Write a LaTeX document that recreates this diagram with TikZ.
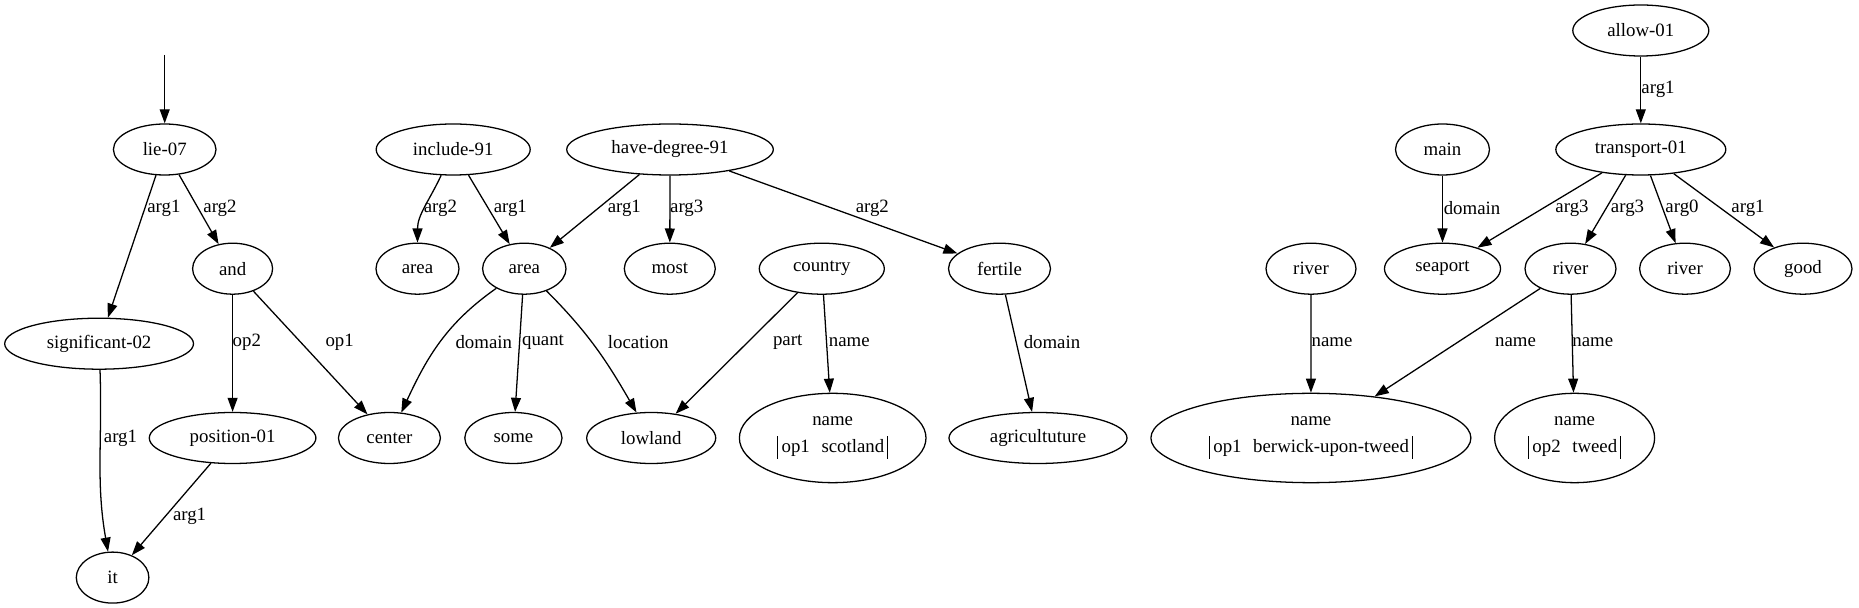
\documentclass[tikz,border=0pt]{standalone}
\usepackage{fontspec}
\setmainfont{Liberation Serif}
\usetikzlibrary{shapes.geometric,arrows.meta}
\newcommand\oprow[2]{\setlength\arrayrulewidth{0.7pt}\begin{tabular}{|@{\hspace{2.3pt}}l@{\hspace{8.2pt}}l@{\hspace{2.3pt}}|}#1&#2\end{tabular}}
\begin{document}
\begin{tikzpicture}[x=0.704pt,y=0.704pt,
 every node/.style={font=\fontsize{13.25pt}{16pt}\selectfont},
 nd/.style={ellipse,draw,line width=0.9pt,inner sep=0pt,minimum height=35.9pt,minimum width=#1*1.408pt},
 nm/.style={ellipse,draw,line width=0.9pt,inner sep=0pt,minimum height=62.9pt,minimum width=#1*1.408pt,align=center},
 edge/.style={draw,line width=0.9pt,-{Triangle[length=9.9pt,width=7pt]}},
 lbl/.style={inner sep=0pt}]
\useasboundingbox (0,0) rectangle (1859,608);
% row 0
\node[nd=68] (allow) at (1640.8,577.5) {allow-01};
\coordinate (start) at (164.7,553);
% row 1
\node[nd=51.3] (lie) at (164.7,458.5) {lie-07};
\node[nd=77] (inc) at (453.2,458.5) {include-91};
\node[nd=103.3] (hd) at (670,458.5) {have-degree-91};
\node[nd=47] (main) at (1442.5,458.5) {main};
\node[nd=85] (tr) at (1640.8,458.5) {transport-01};
% row 2
\node[nd=40] (and) at (232.6,339.3) {and};
\node[nd=41.5] (areaS) at (417.5,339.3) {area};
\node[nd=41.7] (areaB) at (524.3,339.3) {area};
\node[nd=45.5] (most) at (669.8,339.3) {most};
\node[nd=62.5] (country) at (821.8,339.3) {country};
\node[nd=51] (fertile) at (999.5,339.3) {fertile};
\node[nd=45] (riverL) at (1311,339.3) {river};
\node[nd=58] (seaport) at (1442.5,339.3) {seaport};
\node[nd=45.5] (riverM) at (1570.5,339.3) {river};
\node[nd=45.4] (riverR) at (1685,339.3) {river};
\node[nd=49] (good) at (1803,339.3) {good};
% row 3
\node[nd=94.4] (sig) at (99.1,264.3) {significant-02};
% row 4
\node[nd=83.3] (pos) at (232.6,170) {position-01};
\node[nd=51] (center) at (389.4,170) {center};
\node[nd=48.6] (some) at (513.4,170) {some};
\node[nd=64.5] (lowland) at (651.2,170) {lowland};
\node[nm=93.3] (scot) at (832.7,170) {name\\[2.8pt]\oprow{op1}{scotland}};
\node[nd=89] (agri) at (1038,170) {agricultuture};
\node[nm=160] (berw) at (1310.9,170) {name\\[2.8pt]\oprow{op1}{berwick-upon-tweed}};
\node[nm=80] (tweed) at (1574.6,170) {name\\[2.8pt]\oprow{op2}{tweed}};
% row 5
\node[nd=36.3] (it) at (112.6,30.4) {it};
% edges
\draw[edge] (start) -- (lie);
\draw[edge] (lie) -- (sig) node[lbl,at={(163.9,399.7)}] {arg1};
\draw[edge] (lie) -- (and) node[lbl,at={(220,399.7)}] {arg2};
\draw[edge] (and) -- (pos) node[lbl,at={(246.8,265.5)}] {op2};
\draw[edge] (and) -- (center) node[lbl,at={(339.7,265.5)}] {op1};
\draw[edge] (sig) to[out=-88,in=100] (it) node[lbl,at={(120.5,170)}] {arg1};
\draw[edge] (pos) -- (it) node[lbl,at={(189.6,91.5)}] {arg1};
\draw[edge] (inc) to[out=245,in=90] (areaS) node[lbl,at={(440.4,399.7)}] {arg2};
\draw[edge] (inc) -- (areaB) node[lbl,at={(510.3,399.7)}] {arg1};
\draw[edge] (hd) -- (areaB) node[lbl,at={(624.3,399.7)}] {arg1};
\draw[edge] (hd) -- (most) node[lbl,at={(686.7,399.7)}] {arg3};
\draw[edge] (hd) -- (fertile) node[lbl,at={(872.3,399.7)}] {arg2};
\draw[edge] (areaB) to[out=215,in=65] (center) node[lbl,at={(483.8,265.5)}] {domain};
\draw[edge] (areaB) -- (some) node[lbl,at={(543,265.5)}] {quant};
\draw[edge] (areaB) to[out=-45,in=120] (lowland) node[lbl,at={(638.3,265.5)}] {location};
\draw[edge] (country) -- (lowland) node[lbl,at={(787.7,265.5)}] {part};
\draw[edge] (country) -- (scot) node[lbl,at={(849.3,265.5)}] {name};
\draw[edge] (fertile) -- (agri) node[lbl,at={(1052,265.5)}] {domain};
\draw[edge] (allow) -- (tr) node[lbl,at={(1658,518.7)}] {arg1};
\draw[edge] (main) -- (seaport) node[lbl,at={(1472,399.7)}] {domain};
\draw[edge] (tr) -- (seaport) node[lbl,at={(1572,399.7)}] {arg3};
\draw[edge] (tr) -- (riverM) node[lbl,at={(1627.5,399.7)}] {arg3};
\draw[edge] (tr) -- (riverR) node[lbl,at={(1682,399.7)}] {arg0};
\draw[edge] (tr) -- (good) node[lbl,at={(1748,399.7)}] {arg1};
\draw[edge] (riverL) -- (berw) node[lbl,at={(1332,265.5)}] {name};
\draw[edge] (riverM) -- (berw) node[lbl,at={(1515.5,265.5)}] {name};
\draw[edge] (riverM) -- (tweed) node[lbl,at={(1592.8,265.5)}] {name};
\end{tikzpicture}
\end{document}
